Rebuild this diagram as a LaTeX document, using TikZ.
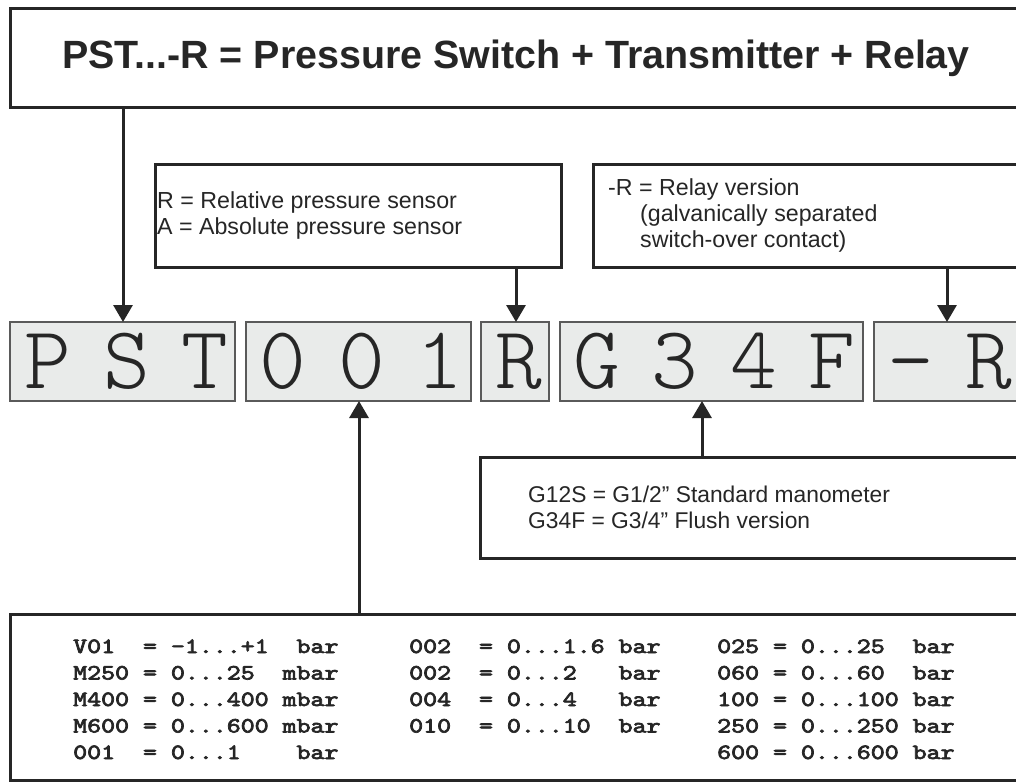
\documentclass[tikz,border=0pt]{standalone}
\usepackage{fontspec}
\setmainfont{Liberation Sans}
\usepackage{graphicx}
\usetikzlibrary{arrows.meta}
\definecolor{ink}{HTML}{262626}
\definecolor{codefill}{HTML}{E9EBEA}
\definecolor{codeline}{HTML}{5A5A5A}
\font\tabf="[lmmono10-regular]:embolden=3" at 21.8pt
\font\bigtt="[lmmonolt10-regular]" at 89pt
\newcommand{\tabsetup}{\fontsize{21.8}{26.5}\selectfont\tabf}
\begin{document}
\begin{tikzpicture}[x=1pt,y=-1pt,
  box/.style={draw=ink, line width=3pt, fill=white, inner sep=0pt, outer sep=0pt, anchor=north west},
  codebox/.style={draw=codeline, line width=1.2pt, fill=codefill, inner sep=0pt, outer sep=0pt, anchor=north west, minimum height=79pt},
  arr/.style={draw=ink, line width=3pt, -{Triangle[length=17pt,width=19pt]}},
  lbl/.style={text=ink, inner sep=0pt, anchor=base west, font=\fontsize{23.2}{26}\selectfont, align=left},
  letter/.style={text=ink, inner sep=0pt, anchor=base, font=\bigtt},
  tab/.style={text=ink, inner sep=0pt, anchor=base west, font=\tabsetup}
]
\useasboundingbox (0,0) rectangle (1016,782);
\clip (0,0) rectangle (1016,782);
\fill[white] (0,0) rectangle (1016,782);

% boxes
\node[box, minimum width=1030pt, minimum height=99pt] (title) at (10,8) {};
\node[box, minimum width=406pt, minimum height=103pt] (rel) at (155,164) {};
\node[box, minimum width=447pt, minimum height=103pt] (relay) at (593,164) {};
\node[box, minimum width=560pt, minimum height=101pt] (gbox) at (480,457) {};
\node[box, minimum width=1030pt, minimum height=166pt] (tbox) at (10,614) {};

% code boxes
\node[codebox, minimum width=225pt] (cb1) at (10,322) {};
\node[codebox, minimum width=225pt] (cb2) at (246,322) {};
\node[codebox, minimum width=68pt] (cb3) at (481,322) {};
\node[codebox, minimum width=303pt] (cb4) at (560,322) {};
\node[codebox, minimum width=170pt] (cb5) at (874,322) {};

% code letters
\foreach \c [count=\i from 0] in {P,S,T,0,0,1,R,G,3,4,F,-,R}{
  \node[letter] (ch\i) at ({48+78.4*\i},388) {\c};
}

% texts
\node[text=ink, inner sep=0pt, anchor=base, font=\fontsize{39.4}{39}\selectfont\bfseries] (ttl) at (516,68) {PST...-R = Pressure Switch + Transmitter + Relay};
\node[lbl] (reltxt) at (157,234) {R = Relative pressure sensor\\A = Absolute pressure sensor};
\node[lbl] (relaytxt) at (608,247) {-R = Relay version\\\hspace*{32pt}(galvanically separated\\\hspace*{32pt}switch-over contact)};
\node[lbl, font=\fontsize{22.8}{26}\selectfont] (gtxt) at (528,528) {G12S = G1/2” Standard manometer\\G34F = G3/4” Flush version};

\node[tab] (col1) at (73,653) {\scalebox{1.22}[1]{\begin{tabular}[t]{@{}l@{}}
V01~~=~-1...+1~~bar\\
M250~=~0...25~~mbar\\
M400~=~0...400~mbar\\
M600~=~0...600~mbar\\
001~~=~0...1~~~~bar
\end{tabular}}};
\node[tab] (col2) at (409,653) {\scalebox{1.22}[1]{\begin{tabular}[t]{@{}l@{}}
002~~=~0...1.6~bar\\
002~~=~0...2~~~bar\\
004~~=~0...4~~~bar\\
010~~=~0...10~~bar
\end{tabular}}};
\node[tab] (col3) at (717,653) {\scalebox{1.22}[1]{\begin{tabular}[t]{@{}l@{}}
025~=~0...25~~bar\\
060~=~0...60~~bar\\
100~=~0...100~bar\\
250~=~0...250~bar\\
600~=~0...600~bar
\end{tabular}}};

% connectors
\coordinate (xa) at (123,0);
\coordinate (xb) at (516,0);
\coordinate (xc) at (947,0);
\coordinate (xd) at (702,0);
\coordinate (xe) at (359,0);
\draw[arr] (title.south -| xa) -- (cb1.north -| xa);
\draw[arr] (rel.south -| xb) -- (cb3.north -| xb);
\draw[arr] (relay.south -| xc) -- (cb5.north -| xc);
\draw[arr] (gbox.north -| xd) -- (cb4.south -| xd);
\draw[arr] (tbox.north -| xe) -- (cb2.south -| xe);
\end{tikzpicture}
\end{document}
